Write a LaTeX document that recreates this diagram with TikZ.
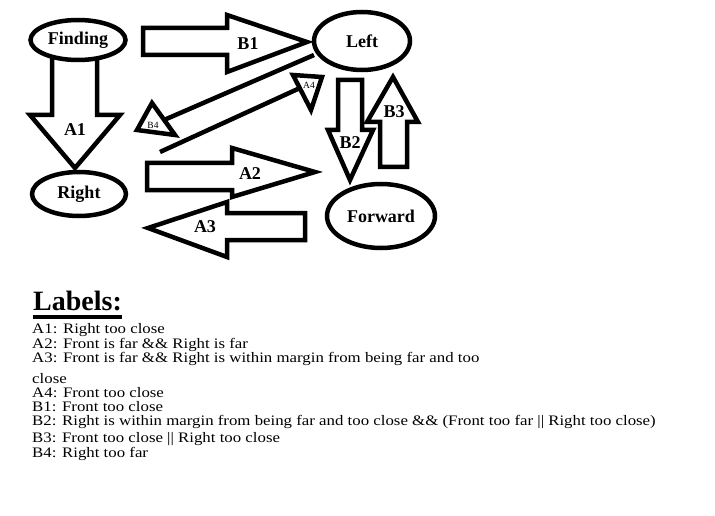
\documentclass[tikz,border=0pt]{standalone}
\usepackage{fontspec}
\setmainfont{Liberation Serif}
\usetikzlibrary{shapes.geometric}

\begin{document}
\begin{tikzpicture}[x=1pt,y=-1pt,every node/.style={inner sep=0pt},
    state/.style={draw,line width=4.5pt,fill=white,ellipse,
                  font=\fontsize{18}{20}\selectfont\bfseries},
    blockarrow/.style={draw,line width=4.5pt,fill=white,line join=miter},
    thinline/.style={draw,line width=4.5pt},
    arrowlbl/.style={font=\fontsize{18}{20}\selectfont\bfseries},
    smalllbl/.style={font=\fontsize{9.5}{10}\selectfont},
    lbltext/.style={anchor=base west,font=\fontsize{14.5}{16}\selectfont}]
    \fill[white] (0,0) rectangle (715,516);
    \useasboundingbox (0,0) rectangle (715,516);

    \draw[blockarrow] (52,56) -- (52,115) -- (30,115) -- (75,168)
          -- (120,115) -- (97,115) -- (97,56) -- cycle;
    \node[arrowlbl] (a1) at (75,130) {A1};
    \draw[blockarrow] (143,28) -- (227,28) -- (227,15) -- (307,42)
          -- (227,72) -- (227,55) -- (143,55) -- cycle;
    \node[arrowlbl] (b1) at (248,44) {B1};
    \draw[blockarrow] (147,163) -- (232,163) -- (232,148) -- (315,172)
          -- (232,197) -- (232,190) -- (147,190) -- cycle;
    \node[arrowlbl] (a2) at (250,174) {A2};
    \draw[blockarrow] (305,213) -- (305,240) -- (227,240) -- (227,257)
          -- (148,228) -- (227,202) -- (227,213) -- cycle;
    \node[arrowlbl] (a3) at (205,227) {A3};
    \draw[blockarrow] (338,80) -- (338,130) -- (328,130) -- (350,180)
          -- (373,130) -- (362,130) -- (362,80) -- cycle;
    \node[arrowlbl] (b2) at (350,143) {B2};
    \draw[blockarrow] (380,167) -- (380,122) -- (367,122) -- (393,77)
          -- (418,122) -- (407,122) -- (407,167) -- cycle;
    \node[arrowlbl] (b3) at (394,112) {B3};

    \coordinate (a4start) at (160,152);
    \coordinate (a4end) at (300,88);
    \draw[thinline] (a4start) -- (a4end);
    \draw[blockarrow] (293,75) -- (322,77) -- (311,110) -- cycle;
    \node[smalllbl] (a4) at (309,85) {A4};
    \coordinate (b4start) at (314,55);
    \coordinate (b4end) at (164,120);
    \draw[thinline] (b4start) -- (b4end);
    \draw[blockarrow] (152,103) -- (175,135) -- (137,130) -- cycle;
    \node[smalllbl] (b4) at (153,125) {B4};

    \node[state,minimum width=95pt,minimum height=40pt] (finding) at (78,40) {Finding};
    \node[state,minimum width=94pt,minimum height=44pt] (right) at (79,194) {Right};
    \node[state,minimum width=96pt,minimum height=58pt] (left) at (362,41) {Left};
    \node[state,minimum width=108pt,minimum height=64pt] (forward) at (381,216) {Forward};

    \node[anchor=base west,font=\fontsize{28}{30}\selectfont\bfseries] (labelshead)
          at (33,310) {Labels:};
    \draw[line width=3.5pt] ([yshift=-7pt]labelshead.base west)
          -- ([yshift=-7pt]labelshead.base east);
    \foreach \y/\txt [count=\i] in {333/A1: Right too close,
        348/A2: Front is far \&\& Right is far,
        362/A3: Front is far \&\& Right is within margin from being far and too,
        383/close,
        397/A4: Front too close,
        411/B1: Front too close,
        425/B2: Right is within margin from being far and too close \&\& (Front too far || Right too close),
        442/B3: Front too close || Right too close,
        457/B4: Right too far}
      \node[lbltext] (line\i) at (32,\y) {\scalebox{1.16}[1]{\txt}};
\end{tikzpicture}
\end{document}
